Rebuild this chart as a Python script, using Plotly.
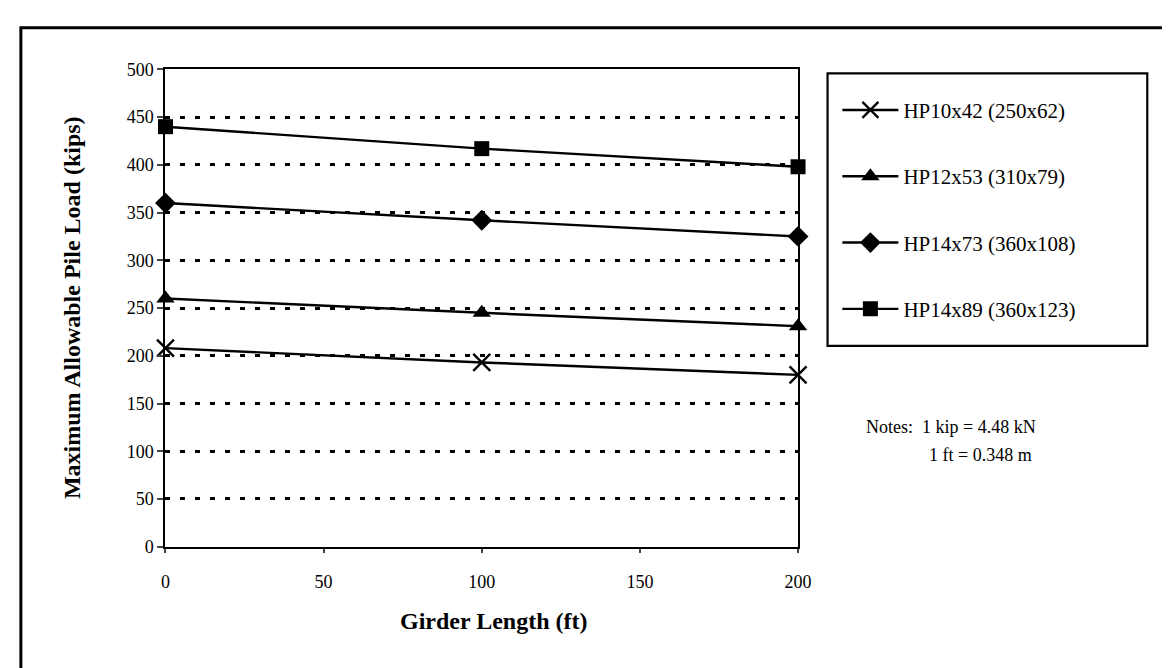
import plotly.graph_objects as go

girder_length = [0, 100, 200]
hp10x42 = [208, 193, 180]
hp12x53 = [260, 245, 231]
hp14x73 = [360, 342, 325]
hp14x89 = [440, 417, 398]
series_names = ["HP10x42 (250x62)", "HP12x53 (310x79)", "HP14x73 (360x108)", "HP14x89 (360x123)"]
y_ticks = [0, 50, 100, 150, 200, 250, 300, 350, 400, 450, 500]
x_ticks = [0, 50, 100, 150, 200]

W, H = 1170, 668
SERIF = "Liberation Serif, Times New Roman, serif"

def px(x):
    return x / W

def py(y):
    return (H - y) / H

fig = go.Figure()
styles = [
    dict(symbol="x-thin", size=17, line=dict(width=2.4, color="black")),
    dict(symbol="triangle-up", size=16),
    dict(symbol="diamond", size=16),
    dict(symbol="square", size=15),
]
for i, (name, vals) in enumerate(zip(series_names, [hp10x42, hp12x53, hp14x73, hp14x89])):
    m = dict(styles[i])
    m["color"] = "black"
    fig.add_trace(go.Scatter(
        x=girder_length, y=vals, name=name, mode="lines+markers",
        line=dict(color="black", width=2.4), marker=m,
        legendgroup=name, cliponaxis=False,
    ))

fig.update_layout(
    width=W, height=H,
    margin=dict(l=0, r=0, t=0, b=0),
    paper_bgcolor="white", plot_bgcolor="white",
    font=dict(family=SERIF, color="black", size=18),
    showlegend=True,
    legend=dict(
        x=px(838), y=py(74), xanchor="left", yanchor="top",
        bgcolor="rgba(0,0,0,0)", borderwidth=0,
        font=dict(family=SERIF, size=21, color="black"),
        tracegroupgap=36, traceorder="grouped", itemwidth=56,
    ),
    xaxis=dict(
        domain=[px(155), px(798)], range=[0, 200],
        tickvals=x_ticks, ticks="outside", ticklen=4, tickwidth=1.5,
        showline=True, linecolor="black", linewidth=2.4, mirror=True,
        showgrid=False, zeroline=False, ticklabelstandoff=14,
        tickfont=dict(family=SERIF, size=18),
    ),
    yaxis=dict(
        domain=[py(545), py(53)], range=[0, 500],
        tickvals=y_ticks, ticks="outside", ticklen=6, tickwidth=1.8,
        showline=True, linecolor="black", linewidth=2.4, mirror=True,
        showgrid=True, gridcolor="black", gridwidth=3, griddash="5px,10px",
        zeroline=False, tickfont=dict(family=SERIF, size=18),
    ),
    shapes=[
        dict(type="rect", xref="paper", yref="paper", x0=px(8), x1=px(1175), y0=py(700), y1=py(10),
             line=dict(color="black", width=3), layer="below"),
        dict(type="rect", xref="paper", yref="paper", x0=px(828), x1=px(1153), y0=py(338), y1=py(57),
             line=dict(color="black", width=2.2), layer="below"),
    ],
    annotations=[
        dict(text="<b>Maximum Allowable Pile Load (kips)</b>", xref="paper", yref="paper",
             x=px(60), y=py(299), textangle=-90, showarrow=False,
             font=dict(family=SERIF, size=24, color="black"), xanchor="center", yanchor="middle"),
        dict(text="<b>Girder Length (ft)</b>", xref="paper", yref="paper",
             x=px(489), y=py(622), showarrow=False,
             font=dict(family=SERIF, size=24, color="black"), xanchor="center", yanchor="middle"),
        dict(text="Notes:  1 kip = 4.48 kN", xref="paper", yref="paper",
             x=px(865), y=py(422), showarrow=False, xanchor="left", yanchor="middle",
             font=dict(family=SERIF, size=18, color="black")),
        dict(text="1 ft = 0.348 m", xref="paper", yref="paper",
             x=px(929), y=py(450), showarrow=False, xanchor="left", yanchor="middle",
             font=dict(family=SERIF, size=18, color="black")),
    ],
)

fig.write_html("out.html")
